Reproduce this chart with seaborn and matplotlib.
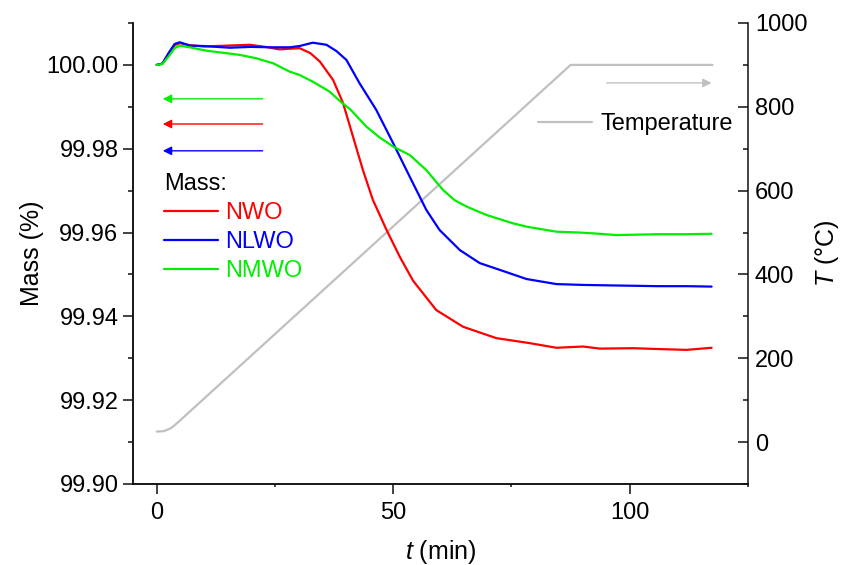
import matplotlib
matplotlib.use("Agg")
import matplotlib.pyplot as plt
import seaborn as sns
import numpy as np
import pandas as pd

# Mass curves (time in min, mass in %)
t_nwo = [0, 1.2, 2.5, 3.8, 4.9, 7, 10, 15, 19.7, 23, 26, 30.2, 32.5, 34.5, 37.3,
         39.4, 41.5, 43.6, 45.7, 48.6, 51.4, 54.2, 59.1, 64.8, 71.8, 78.9, 84.5,
         90.1, 93.7, 100.7, 106, 112, 117.3]
m_nwo = [100.000, 100.0003, 100.0025, 100.0047, 100.0052, 100.0047, 100.0044,
         100.0046, 100.0048, 100.0043, 100.0037, 100.0040, 100.0028, 100.0008,
         99.9964, 99.9909, 99.9829, 99.9749, 99.9678, 99.9606, 99.9542, 99.9485,
         99.9415, 99.9375, 99.9348, 99.9336, 99.9325, 99.9328, 99.9323, 99.9324,
         99.9322, 99.9320, 99.9325]

t_nlwo = [0, 1.2, 2.5, 3.8, 4.9, 7, 10, 15.4, 20, 24, 28.1, 30.2, 33, 35.9, 38,
          40.1, 42.9, 46.4, 50, 53.5, 57, 59.8, 64.1, 68.3, 72.5, 78.2, 84.5,
          90.1, 95, 100.7, 106, 112, 117.3]
m_nlwo = [100.000, 100.0003, 100.0028, 100.0050, 100.0054, 100.0046, 100.0045,
          100.0041, 100.0043, 100.0042, 100.0042, 100.0045, 100.0053, 100.0048,
          100.0033, 100.0012, 99.9956, 99.9893, 99.9813, 99.9733, 99.9654,
          99.9606, 99.9558, 99.9527, 99.9511, 99.9489, 99.9477, 99.9475,
          99.9474, 99.9473, 99.9472, 99.9472, 99.9471]

t_nmwo = [0, 1.2, 2.5, 3.8, 4.9, 7, 10.5, 17.5, 21, 24.6, 28.1, 30.2, 33, 36.6,
          38.7, 41, 44.3, 47, 50, 53.5, 57, 60.5, 63, 65.5, 69.7, 72.5, 75.3,
          78.2, 84.5, 89.4, 92.3, 97.2, 106.3, 112, 117.3]
m_nmwo = [100.000, 100.0002, 100.0020, 100.0040, 100.0046, 100.0042, 100.0034,
          100.0024, 100.0016, 100.0004, 99.9984, 99.9976, 99.9960, 99.9936,
          99.9914, 99.9893, 99.9853, 99.9828, 99.9805, 99.9785, 99.9749,
          99.9702, 99.9677, 99.9662, 99.9642, 99.9632, 99.9622, 99.9614,
          99.9602, 99.9600, 99.9598, 99.9594, 99.9596, 99.9596, 99.9597]

# Temperature program
t_temp = [0, 1.5, 3, 4.5, 87.5, 117.5]
temp = [25, 26, 33, 47, 900, 900]

sns.set_style("ticks")
plt.rcParams['font.family'] = ['Liberation Sans', 'DejaVu Sans']
plt.rcParams['mathtext.fontset'] = 'custom'
plt.rcParams['mathtext.rm'] = 'Liberation Sans'
plt.rcParams['mathtext.it'] = 'Liberation Sans:italic'
plt.rcParams['text.color'] = 'black'
plt.rcParams['axes.labelcolor'] = 'black'
plt.rcParams['xtick.color'] = 'black'
plt.rcParams['ytick.color'] = 'black'

fig = plt.figure(figsize=(8.46, 5.65), dpi=100)
ax = fig.add_axes([0.1572, 0.1434, 0.727, 0.8159])
ax2 = ax.twinx()

red, blue, green, grey = '#ff0000', '#0000ff', '#00ee00', '#c0c0c0'

sns.lineplot(x=t_temp, y=temp, ax=ax2, color=grey, lw=1.6, label='Temperature')
sns.lineplot(x=t_nwo, y=m_nwo, ax=ax, color=red, lw=1.6, label='NWO')
sns.lineplot(x=t_nlwo, y=m_nlwo, ax=ax, color=blue, lw=1.6, label='NLWO')
sns.lineplot(x=t_nmwo, y=m_nmwo, ax=ax, color=green, lw=1.6, label='NMWO')

# mass curves on top of the temperature line
ax.set_zorder(ax2.get_zorder() + 1)
ax.patch.set_visible(False)

ax.set_xlim(-5, 125)
ax.set_ylim(99.90, 100.01)
ax2.set_ylim(-100, 1000)

ax.set_xticks([0, 50, 100])
ax.set_xticks([25, 75, 125], minor=True)
ax.set_yticks(np.arange(99.90, 100.001, 0.02))
ax.set_yticks(np.arange(99.91, 100.011, 0.02), minor=True)
ax.yaxis.set_major_formatter(matplotlib.ticker.FormatStrFormatter('%.2f'))
ax2.set_yticks(np.arange(0, 1001, 200))
ax2.set_yticks(np.arange(-100, 1001, 200), minor=True)

for a in (ax, ax2):
    for s in a.spines.values():
        s.set_linewidth(1.1)
        s.set_color('#111111')
    a.spines['top'].set_visible(False)
ax.spines['right'].set_visible(False)

ax.tick_params(axis='both', which='major', direction='out', length=7, width=1.1,
               labelsize=17, color='#111111')
ax.tick_params(axis='both', which='minor', direction='out', length=3.5, width=1.1,
               color='#111111')
ax.tick_params(axis='x', which='minor', length=2.5)
ax.tick_params(axis='x', which='major', pad=6)
ax2.tick_params(axis='y', which='major', direction='in', length=7, width=1.1,
                labelsize=17, color='#111111', pad=5)
ax2.tick_params(axis='y', which='minor', direction='in', length=3.5, width=1.1,
                color='#111111')

ax.set_xlabel(r'$t$ (min)', fontsize=18, labelpad=10)
ax.set_ylabel('Mass (%)', fontsize=18, labelpad=2)
ax2.set_ylabel(r'$T$ (°C)', fontsize=18, labelpad=4)

# legends
leg = ax.legend(title='Mass:', loc='upper left', bbox_to_anchor=(0.05, 0.675),
                frameon=False, fontsize=17, title_fontsize=17,
                handlelength=2.3, handletextpad=0.3, labelspacing=0.3,
                borderaxespad=0, borderpad=0, labelcolor='linecolor',
                alignment='left')
leg2 = ax2.legend(loc='upper right', bbox_to_anchor=(0.975, 0.805), frameon=False,
                  fontsize=17, handlelength=2.3, handletextpad=0.35,
                  borderaxespad=0, borderpad=0)

# direction arrows
arrow_kw = dict(arrowstyle='-|>', lw=1.0, mutation_scale=13, shrinkA=0, shrinkB=0)
for yv, c in [(99.9919, green), (99.9859, red), (99.9795, blue)]:
    ax.annotate('', xy=(1.3, yv), xytext=(22.4, yv),
                arrowprops=dict(color=c, **arrow_kw))
ax2.annotate('', xy=(117.3, 857), xytext=(95.1, 857),
             arrowprops=dict(color=grey, **arrow_kw))

plt.savefig("out.png", dpi=100)
